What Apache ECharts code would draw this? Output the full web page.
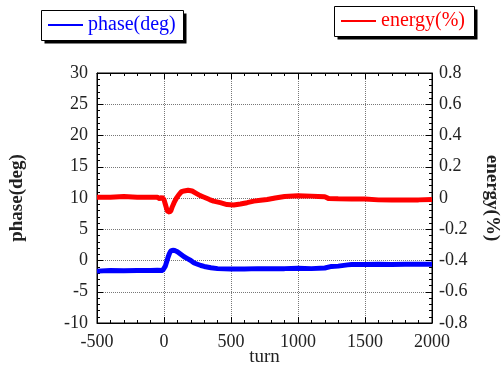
<!DOCTYPE html>
<html>
<head>
<meta charset="utf-8">
<script src="https://cdn.jsdelivr.net/npm/echarts@6/dist/echarts.min.js"></script>
<style>
  html, body { margin: 0; padding: 0; background: #fff; }
  #main { width: 504px; height: 365px; }
</style>
</head>
<body>
<div id="main"></div>
<script>
// phase (left axis, deg)
var phaseTurn = [-500, -400, -300, -200, -100, -50, -10, 0, 10, 20, 30, 40, 50, 65, 80, 100, 125, 150, 175, 200,
  225, 250, 275, 300, 350, 400, 500, 600, 700, 800, 900, 1000, 1100, 1200, 1250, 1300, 1370, 1400, 1500, 1600,
  1700, 1800, 1900, 2000];
var phaseVal = [-1.7, -1.6, -1.65, -1.6, -1.6, -1.55, -1.6, -1.5, -0.9, -0.2, 0.5, 1.1, 1.5, 1.65, 1.6, 1.4,
  1.0, 0.6, 0.3, 0.0, -0.4, -0.6, -0.8, -0.95, -1.15, -1.3, -1.35, -1.35, -1.3, -1.3, -1.3, -1.25, -1.3, -1.2,
  -0.95, -0.9, -0.7, -0.65, -0.65, -0.6, -0.65, -0.6, -0.6, -0.6];

// energy (right axis, %)
var energyTurn = [-500, -400, -300, -200, -100, -50, -30, -15, 0, 10, 20, 30, 40, 50, 60, 75, 90, 110, 130, 150,
  180, 210, 240, 270, 300, 340, 370, 420, 470, 520, 570, 620, 670, 720, 770, 830, 900, 1000, 1100, 1150, 1200,
  1230, 1300, 1400, 1500, 1600, 1700, 1800, 1900, 2000];
var energyVal = [0.005, 0.005, 0.01, 0.005, 0.005, 0.005, -0.005, 0.005, -0.01, -0.04, -0.07, -0.09, -0.095,
  -0.085, -0.06, -0.03, -0.005, 0.02, 0.04, 0.045, 0.05, 0.045, 0.03, 0.015, 0.005, -0.01, -0.02, -0.03, -0.042,
  -0.045, -0.038, -0.03, -0.02, -0.015, -0.01, 0.0, 0.01, 0.015, 0.012, 0.01, 0.008, -0.004, -0.005, -0.006,
  -0.006, -0.012, -0.013, -0.012, -0.012, -0.01];

var pairs = function (xs, ys) { return xs.map(function (x, i) { return [x, ys[i]]; }); };

var serif = '"Liberation Serif", "DejaVu Serif", serif';
var lbl = { fontFamily: serif, fontSize: 18, color: '#222' };
var tickIn = { show: true, inside: true, length: 6, lineStyle: { color: '#000' } };
var minorIn = { show: true, splitNumber: 5, length: 3, lineStyle: { color: '#000' } };
var dotted = { show: true, lineStyle: { color: '#777', type: 'dotted', width: 1 } };
var blackLine = { show: true, onZero: false, lineStyle: { color: '#000' } };

// legend box with a hard black drop shadow
function legendBox(x, y, w, h) {
  return [
    { type: 'rect', z: 0, shape: { x: x + 3, y: y + 3, width: w, height: h }, style: { fill: '#000' } },
    { type: 'rect', z: 1, shape: { x: x, y: y, width: w, height: h }, style: { fill: '#fff', stroke: '#000', lineWidth: 1 } }
  ];
}

var chart = echarts.init(document.getElementById('main'));
chart.setOption({
  animation: false,
  graphic: legendBox(41.5, 10.5, 142, 30).concat(legendBox(334.5, 6.5, 140, 30)),
  grid: { left: 97, right: 72, top: 73, bottom: 42, show: true, borderColor: '#000', borderWidth: 1,
    outerBoundsMode: 'none' },
  legend: [
    {
      data: [{ name: 'phase(deg)', textStyle: { color: '#0000ff' } }],
      left: 41, top: 10, padding: [5, 7], z: 10,
      icon: 'rect', itemWidth: 35, itemHeight: 2, itemGap: 5,
      textStyle: { fontFamily: serif, fontSize: 20 }
    },
    {
      data: [{ name: 'energy(%)', textStyle: { color: '#ff0000' } }],
      left: 334, top: 6, padding: [5, 7], z: 10,
      icon: 'rect', itemWidth: 35, itemHeight: 2, itemGap: 5,
      textStyle: { fontFamily: serif, fontSize: 20 }
    }
  ],
  xAxis: [
    {
      type: 'value', min: -500, max: 2000, interval: 500,
      name: 'turn', nameLocation: 'middle', nameGap: 25, nameMoveOverlap: false,
      nameTextStyle: { fontFamily: serif, fontSize: 19, color: '#222' },
      axisLine: blackLine, axisTick: tickIn, minorTick: minorIn, splitLine: dotted,
      axisLabel: Object.assign({ margin: 10, formatter: function (v) { return String(v); } }, lbl)
    },
    {
      type: 'value', position: 'top', min: -500, max: 2000, interval: 500,
      axisLine: blackLine, axisTick: tickIn, minorTick: minorIn, splitLine: { show: false },
      axisLabel: { show: false }
    }
  ],
  yAxis: [
    {
      type: 'value', min: -10, max: 30, interval: 5,
      name: 'phase(deg)', nameLocation: 'middle', nameGap: 70,
      nameTextStyle: { fontFamily: serif, fontSize: 19, fontWeight: 'bold', color: '#222' },
      axisLine: blackLine, axisTick: tickIn, minorTick: minorIn, splitLine: dotted,
      axisLabel: Object.assign({ margin: 9 }, lbl)
    },
    {
      type: 'value', min: -0.8, max: 0.8, interval: 0.2,
      name: 'energy(%)', nameLocation: 'middle', nameGap: 50, nameRotate: -90,
      nameTextStyle: { fontFamily: serif, fontSize: 19, fontWeight: 'bold', color: '#222' },
      axisLine: blackLine, axisTick: tickIn, minorTick: minorIn, splitLine: { show: false },
      axisLabel: Object.assign({ margin: 7, formatter: function (v) { return String(+v.toFixed(1)); } }, lbl)
    }
  ],
  series: [
    {
      name: 'phase(deg)', type: 'line', yAxisIndex: 0, showSymbol: false,
      data: pairs(phaseTurn, phaseVal),
      itemStyle: { color: '#0000ff' }, lineStyle: { color: '#0000ff', width: 5 }
    },
    {
      name: 'energy(%)', type: 'line', yAxisIndex: 1, showSymbol: false,
      data: pairs(energyTurn, energyVal),
      itemStyle: { color: '#ff0000' }, lineStyle: { color: '#ff0000', width: 5 }
    }
  ]
});
</script>
</body>
</html>
